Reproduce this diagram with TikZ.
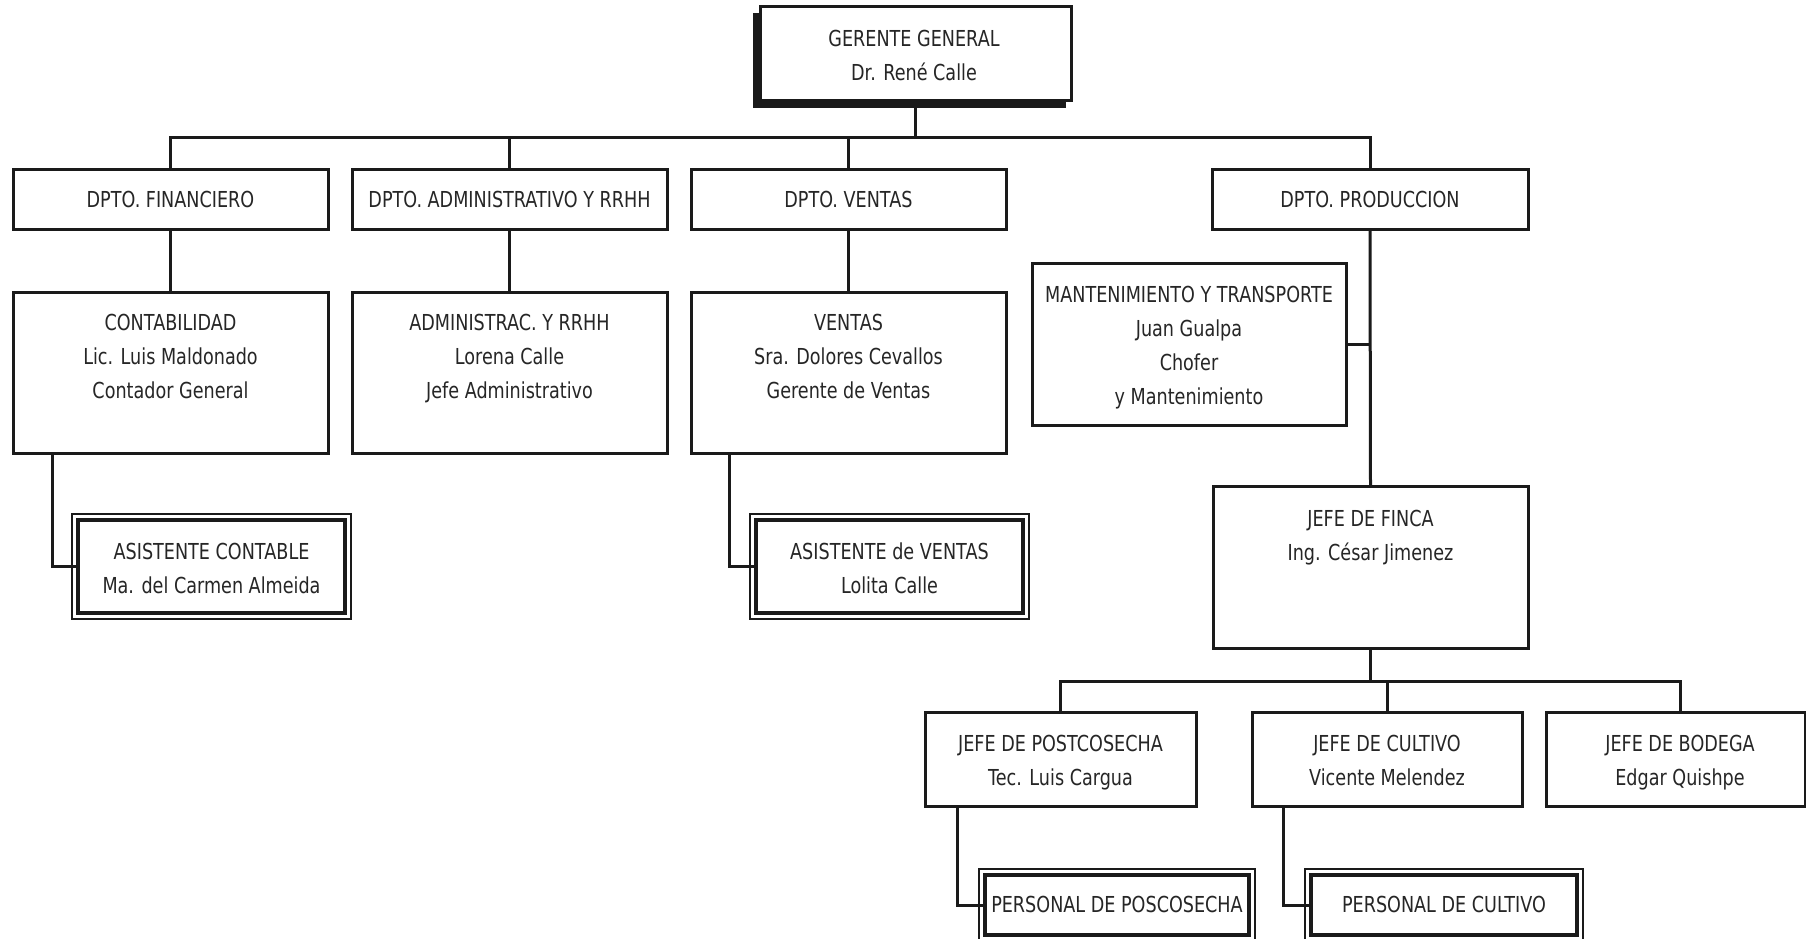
\documentclass[tikz,border=0pt]{standalone}
\usepackage{fontspec}
\setmainfont{DejaVu Sans}[FakeStretch=0.8]
\usetikzlibrary{fit,calc}
\definecolor{ln}{HTML}{1A1A1A}
\definecolor{tx}{HTML}{262626}
\begin{document}
\begin{tikzpicture}[x=0.5pt,y=-0.5pt,
  box/.style={draw=ln, line width=1.5pt, fill=white, inner sep=0pt, outer sep=0pt, rectangle},
  dblout/.style={draw=ln, line width=0.8pt, fill=white, inner sep=0pt, outer sep=0pt, rectangle},
  dblin/.style={draw=ln, line width=1.9pt, inner sep=0pt, outer sep=0pt, rectangle},
  txt/.style={text=tx, align=center, inner sep=0pt, font=\fontsize{11}{17}\selectfont,
    yshift=-2.1pt, execute at begin node=\strut, execute at end node=\strut},
  conn/.style={draw=ln, line width=1.5pt}]
\useasboundingbox (0,0) rectangle (1806,938);
\clip (0,0) rectangle (1806,938);
\fill[white] (0,0) rectangle (1806,938);

% top
\fill[ln] (753,13) rectangle (1066,108);
\node[box, fit={(760,6) (1071,100)}] (gg) {};
\node[txt] (t-gg) at (914,56) {GERENTE GENERAL\\Dr. René Calle};

% departments
\node[box, fit={(13,169) (328,229)}] (fin) {};
\node[box, fit={(352,169) (667,229)}] (adm) {};
\node[box, fit={(691,169) (1006,229)}] (ven) {};
\node[box, fit={(1212,169) (1528,229)}] (prod) {};
\node[txt] (t-fin) at ($(fin)+(0,-2.5)$) {DPTO. FINANCIERO};
\node[txt] (t-adm) at ($(adm)+(0,-2.5)$) {DPTO. ADMINISTRATIVO Y RRHH};
\node[txt] (t-ven) at ($(ven)+(0,-2.5)$) {DPTO. VENTAS};
\node[txt] (t-prod) at ($(prod)+(0,-2.5)$) {DPTO. PRODUCCION};

% second row
\node[box, fit={(13,292) (328,453)}] (cont) {};
\node[box, fit={(352,292) (667,453)}] (admr) {};
\node[box, fit={(691,292) (1006,453)}] (vent) {};
\node[txt] (t-cont) at (170.5,357) {CONTABILIDAD\\Lic. Luis Maldonado\\Contador General};
\node[txt] (t-admr) at (509.5,357) {ADMINISTRAC. Y RRHH\\Lorena Calle\\Jefe Administrativo};
\node[txt] (t-vent) at (848.5,357) {VENTAS\\Sra. Dolores Cevallos\\Gerente de Ventas};

% assistants
\node[dblout, fit={(72,514) (351,619)}] (acout) {};
\node[dblin, fit={(78,520) (345,613)}] (acin) {};
\node[txt] (t-ac) at (211.5,569) {ASISTENTE CONTABLE\\Ma. del Carmen Almeida};
\node[dblout, fit={(750,514) (1029,619)}] (avout) {};
\node[dblin, fit={(756,520) (1023,613)}] (avin) {};
\node[txt] (t-av) at (889.5,569) {ASISTENTE de VENTAS\\Lolita Calle};

% production branch
\node[box, fit={(1032,263) (1346,425)}] (mant) {};
\node[txt] (t-mant) at (1189,346) {MANTENIMIENTO Y TRANSPORTE\\Juan Gualpa\\Chofer\\y Mantenimiento};
\node[box, fit={(1213,486) (1528,648)}] (finca) {};
\node[txt] (t-finca) at (1370.5,536) {JEFE DE FINCA\\Ing. César Jimenez};

\node[box, fit={(925,712) (1196,806)}] (post) {};
\node[box, fit={(1252,712) (1522,806)}] (cult) {};
\node[box, fit={(1546,712) (1805,806)}] (bod) {};
\node[txt] (t-post) at (1060.5,761) {JEFE DE POSTCOSECHA\\Tec. Luis Cargua};
\node[txt] (t-cult) at (1387,761) {JEFE DE CULTIVO\\Vicente Melendez};
\node[txt] (t-bod) at (1680,761) {JEFE DE BODEGA\\Edgar Quishpe};

\node[dblout, fit={(979,869) (1255,942)}] (ppout) {};
\node[dblin, fit={(985,875) (1249,935)}] (ppin) {};
\node[txt] (t-pp) at ($(ppin)+(0,-3.5)$) {PERSONAL DE POSCOSECHA};
\node[dblout, fit={(1305,869) (1583,942)}] (pcout) {};
\node[dblin, fit={(1311,875) (1577,935)}] (pcin) {};
\node[txt] (t-pc) at ($(pcin)+(0,-3.5)$) {PERSONAL DE CULTIVO};

% connectors
\coordinate (bus) at (0,137);
\draw[conn] (gg.south) -- (gg.south |- bus);
\draw[conn] (fin.north) -- (fin.north |- bus) -| (prod.north);
\draw[conn] (adm.north) -- (adm.north |- bus);
\draw[conn] (ven.north) -- (ven.north |- bus);
\draw[conn] (fin.south) -- (cont.north);
\draw[conn] (adm.south) -- (admr.north);
\draw[conn] (ven.south) -- (vent.north);
\draw[conn] ($(cont.south west)+(39,0)$) |- (acin.west);
\draw[conn] ($(vent.south west)+(38,0)$) |- (avin.west);
\draw[conn] (prod.south) -- (finca.north);
\draw[conn] (mant.east) -- (mant.east -| prod.south);
\coordinate (sb) at (0,681);
\draw[conn] (finca.south) -- (finca.south |- sb);
\draw[conn] (post.north) -- (post.north |- sb) -| (t-bod.north |- bod.north);
\draw[conn] (cult.north) -- (cult.north |- sb);
\draw[conn] ($(post.south west)+(32,0)$) |- (ppin.west);
\draw[conn] ($(cult.south west)+(31,0)$) |- (pcin.west);
\end{tikzpicture}
\end{document}
